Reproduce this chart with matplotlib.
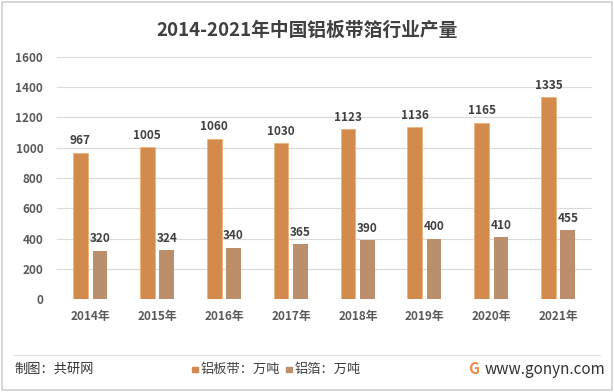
import matplotlib
matplotlib.use("Agg")
import matplotlib.pyplot as plt
from matplotlib.patches import Rectangle
import numpy as np

plt.rcParams['font.family'] = ['Noto Sans CJK SC', 'DejaVu Sans']

years = ['2014年', '2015年', '2016年', '2017年', '2018年', '2019年', '2020年', '2021年']
plate = [967, 1005, 1060, 1030, 1123, 1136, 1165, 1335]   # 铝板带
foil = [320, 324, 340, 365, 390, 400, 410, 455]            # 铝箔

c_plate = '#D38B4D'
c_foil = '#BC8F6C'
txt = '#404040'

fig = plt.figure(figsize=(6.14, 3.92), dpi=100)
ax = fig.add_axes([0.093, 0.237, 0.871, 0.618])

x = np.arange(len(years))
w = 0.22
ax.bar(x - 0.15, plate, w, color=c_plate, edgecolor='#F0B27A', linewidth=0.6, zorder=3)
ax.bar(x + 0.14, foil, w, color=c_foil, zorder=3)

# 数据标签
for xi, v in zip(x, plate):
    ax.text(xi - 0.15, v + 35, str(v), ha='center', va='bottom', fontsize=8.5,
            fontweight='bold', color=txt)
for xi, v in zip(x, foil):
    ax.text(xi + 0.14, v + 35, str(v), ha='center', va='bottom', fontsize=8.5,
            fontweight='bold', color=txt)

ax.set_xlim(-0.5, len(years) - 0.5)
ax.set_ylim(0, 1600)
ax.set_yticks(range(0, 1601, 200))
ax.set_xticks(x)
ax.set_xticklabels(years, fontsize=8.5, fontweight='bold', color='#595959')
ax.tick_params(axis='y', labelsize=8.5, colors='#595959', length=0, pad=10)
ax.tick_params(axis='x', length=0, pad=8)
for t in ax.get_yticklabels():
    t.set_fontweight('bold')
ax.grid(axis='y', color='#D9D9D9', linewidth=0.8, zorder=0)
for s in ax.spines.values():
    s.set_visible(False)

fig.text(0.5, 0.923, '2014-2021年中国铝板带箔行业产量', ha='center', va='center',
         fontsize=13.5, fontweight='bold', color=txt)

# 底部
fig.add_artist(plt.Line2D([0.023, 0.977], [0.095, 0.095], color='#E0E0E0', linewidth=0.8))
fig.text(0.023, 0.058, '制图：共研网', fontsize=9.5, color='#333333', va='center')
fig.add_artist(Rectangle((0.313, 0.05), 0.009, 0.014, color=c_plate))
fig.text(0.326, 0.058, '铝板带：万吨', fontsize=9.5, color='#404040', va='center')
fig.add_artist(Rectangle((0.466, 0.05), 0.009, 0.014, color=c_foil))
fig.text(0.479, 0.058, '铝箔：万吨', fontsize=9.5, color='#404040', va='center')
fig.text(0.762, 0.058, 'G', fontsize=11, fontweight='bold', color='#F08A4B', va='center')
fig.text(0.79, 0.058, 'www.gonyn.com', fontsize=11, color='#333333', va='center')

# 外框
fig.add_artist(Rectangle((0.003, 0.005), 0.994, 0.99, fill=False, edgecolor='#D0D0D0',
                         linewidth=1.2))

fig.savefig('out.png', dpi=100)
